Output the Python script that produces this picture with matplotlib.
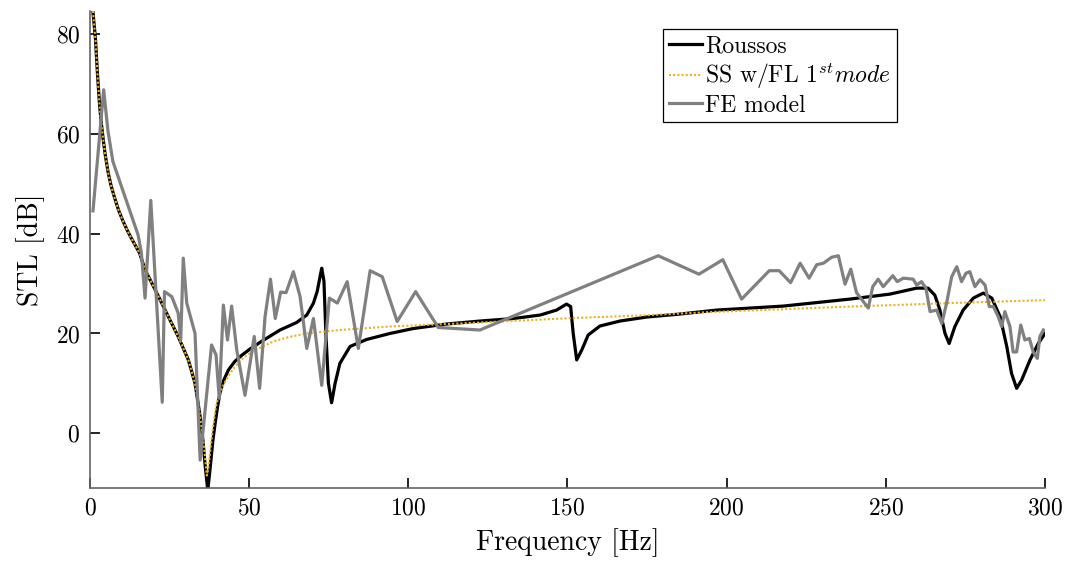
import matplotlib
matplotlib.use("Agg")
import matplotlib.pyplot as plt

plt.rcParams["font.family"] = "cmr10"
plt.rcParams["mathtext.fontset"] = "cm"
plt.rcParams["axes.formatter.use_mathtext"] = True

# Roussos model (black)
roussos_f = [0.9, 1.3, 1.7, 2.3, 3.0, 3.5, 4.1, 4.8, 5.65, 6.6, 7.75, 9.0, 10.4, 11.7, 13.0,
             15.6, 17.3, 21.0, 24.6, 27.7, 30.9, 33.0, 34.6, 35.5, 36.1, 36.6, 37.0, 37.5,
             38.0, 38.6, 39.3, 40.0, 40.8, 42.0, 43.5, 45.5, 47.6, 50.5, 53.6,
             59.7, 64.9, 68.1, 70.2, 71.4, 72.3, 72.8, 73.5, 74.1, 74.9, 75.9, 77.0, 78.5,
             81.7, 86.9, 94.2, 101.6, 112.0, 122.5, 133.0, 141.4, 146.6, 149.7, 151.0,
             151.8, 152.9, 154.5, 156.5, 160.2, 166.5, 174.9, 185.3, 196.9, 217.8,
             238.7, 251.3, 259.7, 263.3, 265.4, 267.0, 268.6, 269.9, 271.7, 274.3,
             277.5, 280.6, 283.3, 285.9, 288.0, 289.5, 291.1, 292.7, 295.3, 297.9, 300.0]
roussos_db = [84.7, 82.0, 79.3, 72.6, 65.9, 62.5, 59.2, 55.8, 52.5, 49.7, 47.2, 44.7, 42.5, 40.7, 39.1,
              36.1, 32.8, 28.1, 23.4, 19.4, 14.7, 10.0, 3.3, -1.5, -6.0, -9.0, -11.5, -8.5,
              -5.4, -1.5, 1.9, 5.0, 8.0, 10.6, 12.7, 14.4, 15.6, 17.0, 18.3,
              20.7, 22.2, 23.7, 26.1, 28.5, 31.5, 33.1, 30.5, 20.0, 10.0, 6.1, 10.0, 14.0,
              17.4, 18.8, 20.0, 21.0, 21.9, 22.5, 23.0, 23.7, 24.7, 25.9, 25.4,
              20.0, 14.7, 16.7, 19.7, 21.5, 22.5, 23.3, 23.9, 24.7, 25.5,
              26.9, 27.9, 29.1, 29.1, 27.7, 24.7, 20.0, 18.0, 21.4, 24.7,
              27.1, 28.1, 27.1, 23.4, 17.4, 12.0, 9.0, 10.7, 14.7, 18.0, 20.0]

# SS w/FL 1st mode (orange dotted)
ss_f = [0.9, 1.3, 1.7, 2.3, 3.0, 3.5, 4.1, 4.8, 5.65, 6.6, 7.75, 9.0, 10.4, 11.7, 13.0,
        15.6, 17.3, 21.0, 24.6, 27.7, 30.9, 33.0, 34.6, 35.5, 36.1, 36.7, 37.2, 37.8,
        38.5, 39.2, 39.8, 41.0, 42.0, 44.0, 46.5, 49.2, 53.0,
        57.6, 62.5, 68.1, 78.5, 94.2, 122.5, 151.8, 175.9, 194.8, 238.7, 270.2, 300.0]
ss_db = [84.7, 82.0, 79.3, 72.6, 65.9, 62.5, 59.2, 55.8, 52.5, 49.7, 47.2, 44.7, 42.5, 40.7, 39.1,
         36.1, 32.8, 28.1, 23.4, 19.4, 14.7, 10.0, 3.3, -1.0, -4.5, -8.5, -7.0, -3.5,
         0.5, 3.8, 6.0, 8.2, 9.8, 12.0, 14.1, 15.7, 17.0,
         18.4, 19.3, 20.0, 20.7, 21.4, 22.2, 23.1, 23.7, 24.3, 25.4, 26.1, 26.7]

# FE model (gray)
fe_f = [0.94, 4.3, 5.65, 7.2, 15.1, 16.1, 17.3, 19.1, 22.7, 23.4, 25.7, 27.7, 28.5,
        29.3, 30.4, 33.0, 34.6, 38.2, 39.6, 40.6, 41.9, 43.2, 44.5, 46.1, 48.7,
        51.6, 53.3, 55.0, 56.7, 58.2, 59.9, 61.6, 63.9, 66.0, 68.1, 70.2, 72.8,
        75.2, 77.7, 80.8, 84.3, 88.0, 91.8, 96.5, 102.3, 109.4, 122.5, 178.5,
        191.3, 198.8, 204.7, 213.4, 216.5, 220.1, 223.1, 225.9, 228.3, 230.4,
        233.0, 235.1, 237.2, 239.0, 240.8, 244.5, 245.9, 247.6, 249.2, 252.2,
        253.6, 255.5, 258.6, 259.7, 261.2, 262.6, 263.9, 266.0, 267.6, 269.1,
        270.7, 272.3, 273.8, 275.2, 276.4, 278.0, 279.6, 281.2, 282.5, 283.8,
        285.3, 286.4, 287.4, 289.0, 290.0, 291.1, 292.4, 293.7, 295.1, 296.3,
        297.6, 298.4, 299.5]
fe_db = [44.6, 68.9, 60.6, 54.5, 39.8, 36.4, 27.1, 46.7, 6.2, 28.4, 27.4, 24.1, 18.7,
         35.1, 26.1, 20.0, -5.4, 17.7, 15.7, 7.0, 25.7, 18.7, 25.5, 16.7, 7.6,
         19.4, 9.0, 23.4, 30.9, 23.0, 28.3, 28.2, 32.4, 27.4, 17.0, 23.0, 9.6,
         27.1, 26.1, 30.4, 17.0, 32.6, 31.4, 22.4, 28.4, 21.2, 20.7, 35.6,
         31.9, 34.8, 26.9, 32.6, 32.6, 30.2, 34.1, 31.1, 33.8, 34.1,
         35.3, 35.6, 29.9, 32.9, 28.2, 25.1, 29.4, 30.9, 29.4, 31.6,
         30.4, 31.1, 30.9, 29.7, 30.4, 29.1, 24.4, 24.7, 22.0, 26.1,
         31.4, 33.4, 30.4, 32.1, 32.4, 29.4, 30.8, 29.7, 25.4, 25.4,
         23.4, 21.4, 24.4, 21.4, 16.3, 16.3, 21.7, 18.7, 19.0, 16.3,
         15.0, 19.4, 20.7]

fig = plt.figure(figsize=(10.7, 5.61), dpi=100)
ax = fig.add_axes([0.0841, 0.1301, 0.8925, 0.8503])

ax.plot(roussos_f, roussos_db, color="black", lw=2.3, label="Roussos", zorder=2)
ax.plot(ss_f, ss_db, color="#EDB120", lw=1.5, ls=(0, (1, 1)), label="SS w/FL 1$^{st}mode$", zorder=3)
ax.plot(fe_f, fe_db, color="#808080", lw=2.3, label="FE model", zorder=4)

ax.set_xlim(0, 300)
ax.set_ylim(-11, 84.7)
ax.set_xticks([0, 50, 100, 150, 200, 250, 300])
ax.set_yticks([0, 20, 40, 60, 80])
ax.set_xlabel("Frequency [Hz]", fontsize=20, labelpad=6)
ax.set_ylabel("STL [dB]", fontsize=20, labelpad=8)
ax.tick_params(direction="in", length=7, width=1.2, labelsize=17, color="black", pad=7)
for s in ["top", "right"]:
    ax.spines[s].set_visible(False)
for s in ["left", "bottom"]:
    ax.spines[s].set_color("#646464")
    ax.spines[s].set_linewidth(1.2)

leg = ax.legend(loc="upper left", bbox_to_anchor=(0.600, 0.962), fontsize=17,
                fancybox=False, framealpha=1, edgecolor="black",
                handlelength=1.4, handletextpad=0.15, borderpad=0.25,
                labelspacing=0.15, borderaxespad=0)
leg.get_frame().set_linewidth(0.9)

fig.savefig("out.png", dpi=100)
